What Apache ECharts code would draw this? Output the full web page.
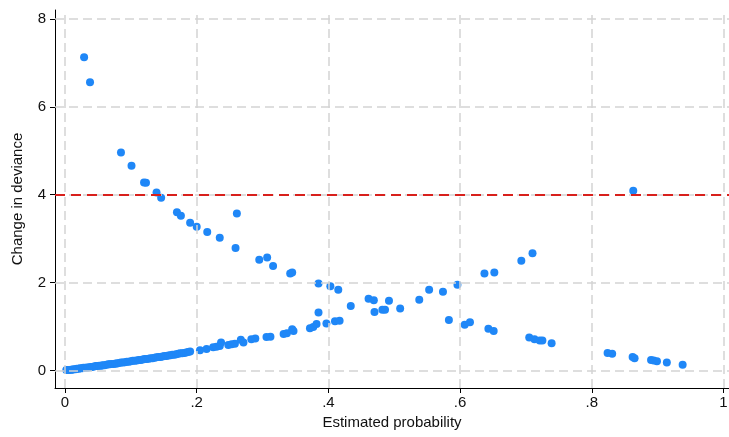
<!DOCTYPE html>
<html>
<head>
<meta charset="utf-8">
<script src="https://cdn.jsdelivr.net/npm/echarts@6/dist/echarts.min.js"></script>
<style>
html,body{margin:0;padding:0;background:#fff;}
#chart{width:729px;height:437px;}
</style>
</head>
<body>
<div id="chart"></div>
<script>
// ---- data ----
const xTicks = [0, 0.2, 0.4, 0.6, 0.8, 1];
const xTickLabels = ['0', '.2', '.4', '.6', '.8', '1'];
const yTicks = [0, 2, 4, 6, 8];
const yTickLabels = ['0', '2', '4', '6', '8'];
const cutoff = 4;
const xTitle = 'Estimated probability';
const yTitle = 'Change in deviance';

// dense lower band (small probabilities)
const bandProb = [0.002,0.004,0.006,0.009,0.011,0.013,0.016,0.018,0.021,0.023,0.026,0.028,0.031,0.034,0.036,0.039,0.041,0.044,0.047,0.049,0.052,0.055,0.057,0.060,0.063,0.066,0.068,0.071,0.074,0.077,0.079,0.082,0.085,0.088,0.091,0.094,0.097,0.100,0.103,0.106,0.109,0.112,0.115,0.118,0.121,0.124,0.127,0.130,0.133,0.136,0.139,0.142,0.145,0.148,0.151,0.154,0.157,0.160,0.163,0.166,0.169,0.172,0.175,0.178,0.181,0.184,0.187,0.190];
const bandDev  = [0.01,0.01,0.01,0.02,0.02,0.03,0.03,0.04,0.04,0.05,0.05,0.06,0.06,0.07,0.07,0.08,0.08,0.09,0.10,0.10,0.11,0.11,0.12,0.12,0.13,0.14,0.14,0.15,0.15,0.16,0.16,0.17,0.18,0.18,0.19,0.20,0.20,0.21,0.22,0.22,0.23,0.24,0.24,0.25,0.26,0.26,0.27,0.28,0.28,0.29,0.30,0.31,0.31,0.32,0.33,0.33,0.34,0.35,0.36,0.36,0.37,0.38,0.39,0.39,0.40,0.41,0.42,0.43];

// upper branch (large changes)
const upperProb = [0.029,0.038,0.085,0.101,0.120,0.123,0.139,0.146,0.170,0.176,0.190,0.200,0.216,0.235,0.259,0.261,0.295,0.307,0.316,0.342,0.345,0.385,0.403,0.415,0.434,0.461,0.469,0.492,0.538,0.553,0.574,0.596,0.637,0.652,0.693,0.710,0.863];
const upperDev  = [7.13,6.56,4.96,4.66,4.28,4.27,4.05,3.93,3.60,3.52,3.36,3.27,3.15,3.02,2.79,3.57,2.52,2.57,2.38,2.21,2.23,1.98,1.92,1.84,1.47,1.63,1.60,1.59,1.61,1.84,1.79,1.95,2.21,2.23,2.50,2.67,4.09];

// remaining lower points
const lowerProb = [0.205,0.215,0.225,0.230,0.235,0.237,0.248,0.253,0.258,0.267,0.271,0.283,0.289,0.306,0.312,0.332,0.337,0.345,0.347,0.372,0.377,0.382,0.385,0.397,0.410,0.417,0.470,0.482,0.486,0.509,0.583,0.607,0.615,0.643,0.651,0.705,0.713,0.721,0.725,0.739,0.824,0.831,0.862,0.865,0.890,0.894,0.899,0.914,0.938];
const lowerDev  = [0.46,0.49,0.53,0.54,0.56,0.64,0.58,0.60,0.61,0.70,0.64,0.71,0.73,0.76,0.77,0.83,0.85,0.94,0.90,0.96,0.99,1.06,1.32,1.07,1.12,1.13,1.33,1.38,1.38,1.41,1.15,1.04,1.10,0.95,0.90,0.75,0.71,0.68,0.68,0.62,0.40,0.38,0.31,0.28,0.24,0.23,0.21,0.18,0.13];

// ---- build ----
function zip(a, b) { return a.map((v, i) => [v, b[i]]); }
const points = zip(bandProb, bandDev).concat(zip(upperProb, upperDev), zip(lowerProb, lowerDev));

const chart = echarts.init(document.getElementById('chart'), null, { renderer: 'canvas' });
const font = 'Liberation Sans, Arial, sans-serif';
const gridStyle = { color: '#d4d4d4', width: 1.5, type: [9, 5] };

chart.setOption({
  animation: false,
  backgroundColor: '#ffffff',
  grid: { left: 55, top: 10, right: 0, bottom: 49, containLabel: false, outerBoundsMode: 'none' },
  xAxis: {
    type: 'value', min: -0.0152, max: 1.0084,
    name: xTitle, nameLocation: 'middle', nameGap: 23,
    nameTextStyle: { fontFamily: font, fontSize: 15, color: '#111' },
    axisLine: { show: true, onZero: false, lineStyle: { color: '#000', width: 1 } },
    axisTick: { show: true, customValues: xTicks, length: 5, lineStyle: { color: '#000' } },
    axisLabel: { customValues: xTicks, margin: 7, fontFamily: font, fontSize: 15, color: '#111',
      formatter: v => xTickLabels[xTicks.findIndex(t => Math.abs(t - v) < 1e-9)] },
    splitLine: { show: false }
  },
  yAxis: {
    type: 'value', min: -0.398, max: 8.203,
    name: yTitle, nameLocation: 'middle', nameGap: 30, nameRotate: 90,
    nameTextStyle: { fontFamily: font, fontSize: 15, color: '#111' },
    axisLine: { show: true, onZero: false, lineStyle: { color: '#000', width: 1 } },
    axisTick: { show: true, customValues: yTicks, length: 5, lineStyle: { color: '#000' } },
    axisLabel: { customValues: yTicks, margin: 9, fontFamily: font, fontSize: 15, color: '#111',
      formatter: v => yTickLabels[yTicks.findIndex(t => Math.abs(t - v) < 1e-9)] },
    splitLine: { show: false }
  },
  series: [
    {
      type: 'scatter', data: [], silent: true, z: 1,
      markLine: {
        silent: true, symbol: 'none', label: { show: false }, animation: false,
        lineStyle: gridStyle,
        data: xTicks.map(t => ({ xAxis: t })).concat(yTicks.map(t => ({ yAxis: t })))
      }
    },
    {
      type: 'scatter', data: [], silent: true, z: 2,
      markLine: {
        silent: true, symbol: 'none', label: { show: false }, animation: false,
        lineStyle: { color: '#d8201c', width: 2, type: [10, 6] },
        data: [{ yAxis: cutoff }]
      }
    },
    {
      type: 'scatter', data: points, z: 3,
      symbol: 'circle', symbolSize: 8,
      itemStyle: { color: '#1f87f7', opacity: 1 }
    }
  ]
});
</script>
</body>
</html>
